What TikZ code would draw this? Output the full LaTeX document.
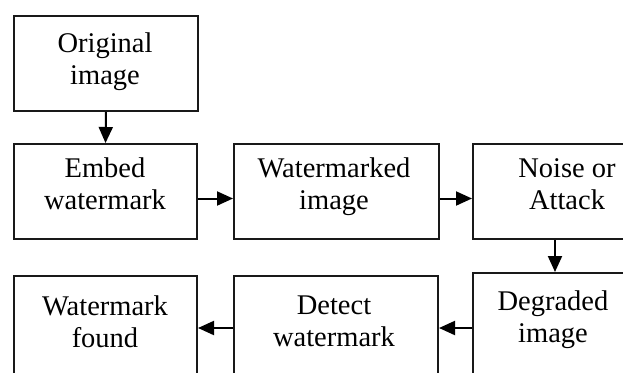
\documentclass[tikz,border=0pt]{standalone}
\usepackage{fontspec}
\setmainfont{Liberation Serif}
\usetikzlibrary{arrows.meta}
\begin{document}
\begin{tikzpicture}[x=1pt,y=-1pt,
  box/.style={draw=black!90, line width=2pt, inner sep=0pt, anchor=north west},
  lbl/.style={align=center, inner sep=0pt, anchor=north, font=\fontsize{28.5}{32}\selectfont},
  conn/.style={line width=2pt, -{Triangle[length=16pt,width=14pt]}}]
\useasboundingbox (0,0) rectangle (623,372);
\clip (0,0) rectangle (623,372);
% boxes
\node[box, minimum width=184pt, minimum height=95pt] (orig) at (13,15) {};
\node[box, minimum width=183pt, minimum height=95pt] (embed) at (13,143) {};
\node[box, minimum width=205pt, minimum height=95pt] (wmk) at (233,143) {};
\node[box, minimum width=210pt, minimum height=95pt] (noise) at (472,143) {};
\node[box, minimum width=210pt, minimum height=150pt] (degr) at (472,272) {};
\node[box, minimum width=204pt, minimum height=150pt] (detect) at (233,275) {};
\node[box, minimum width=183pt, minimum height=150pt] (found) at (13,275) {};
% labels
\node[lbl] (torig) at (105,32.5) {Original\\image};
\node[lbl] (tembed) at (105,158) {Embed\\watermark};
\node[lbl] (twmk) at (334,158) {Watermarked\\image};
\node[lbl] (tnoise) at (567,158) {Noise or\\Attack};
\node[lbl] (tdegr) at (553,291) {Degraded\\image};
\node[lbl] (tdetect) at (334,296) {Detect\\watermark};
\node[lbl] (tfound) at (105,296) {Watermark\\found};
% connector rows
\coordinate (r2) at (0,198.5);
\coordinate (c3) at (555,0);
\coordinate (r3) at (0,328);
\draw[conn] (orig.south) -- (embed.north);
\draw[conn] (embed.east |- r2) -- (wmk.west |- r2);
\draw[conn] (wmk.east |- r2) -- (noise.west |- r2);
\draw[conn] (noise.south -| c3) -- (degr.north -| c3);
\draw[conn] (degr.west |- r3) -- (detect.east |- r3);
\draw[conn] (detect.west |- r3) -- (found.east |- r3);
\end{tikzpicture}
\end{document}
